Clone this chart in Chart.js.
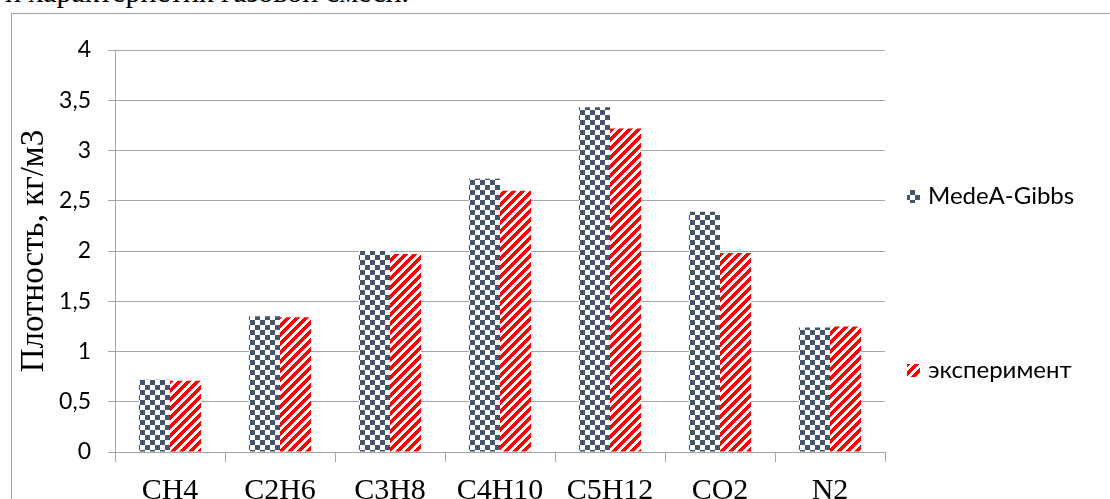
<!DOCTYPE html>
<html><head><meta charset="utf-8">
<script src="https://cdn.jsdelivr.net/npm/chart.js@4/dist/chart.umd.min.js"></script>
<style>
html,body{margin:0;padding:0;width:1110px;height:499px;overflow:hidden;background:#fff}
#frame{position:absolute;left:11px;top:13px;width:1200px;height:600px;border:1px solid #a0a0a0;box-sizing:border-box}
#caption{position:absolute;left:5px;top:-23px;font-size:30px;font-family:"Liberation Serif",serif;white-space:nowrap;line-height:30px;color:#000}
#wrap{position:absolute;left:0;top:0;width:1110px;height:499px}
</style></head>
<body>
<div id="caption">и характеристик газовой смеси.</div>
<div id="frame"></div>
<div id="wrap"><canvas id="c" width="1110" height="499"></canvas></div>
<script>
const categories = ['CH4','C2H6','C3H8','C4H10','C5H12','CO2','N2'];
const seriesNames = ['MedeA-Gibbs','эксперимент'];
const medeaValues = [0.72,1.35,2.00,2.72,3.43,2.39,1.24];
const experimentValues = [0.71,1.34,1.97,2.60,3.22,1.98,1.25];
const yTicks = [0,0.5,1,1.5,2,2.5,3,3.5,4];
const yTitle = 'Плотность, кг/м3';

function checkerPattern(){
  const n=10, c=document.createElement('canvas'); c.width=n; c.height=n;
  const g=c.getContext('2d'); g.fillStyle='#fff'; g.fillRect(0,0,n,n);
  g.fillStyle='#44546a';
  g.fillRect(0,0,5,5); g.fillRect(5,5,5,5);
  return g.createPattern(c,'repeat');
}
function stripePattern(){
  const n=9, c=document.createElement('canvas'); c.width=n; c.height=n;
  const g=c.getContext('2d'); const img=g.createImageData(n,n);
  for(let y=0;y<n;y++)for(let x=0;x<n;x++){
    const red=((x+y)%n)<4.5; const i=(y*n+x)*4;
    img.data[i]=255; img.data[i+1]=red?0:255; img.data[i+2]=red?0:255; img.data[i+3]=255;
  }
  g.putImageData(img,0,0);
  return g.createPattern(c,'repeat');
}

const sideLegend = {
  id:'sideLegend',
  afterDraw(chart){
    const ctx=chart.ctx, a=chart.chartArea;
    const ys=[a.top+146, a.top+320];
    chart.data.datasets.forEach((ds,i)=>{
      ctx.save();
      ctx.fillStyle=ds.backgroundColor;
      ctx.fillRect(a.right+22, ys[i]-6, 13, 13);
      ctx.fillStyle='#000';
      ctx.font='24px Lato';
      ctx.textBaseline='middle';
      ctx.fillText(ds.label, a.right+43, ys[i]);
      ctx.restore();
    });
  }
};

Promise.all([document.fonts.load('24px Lato'),document.fonts.load('30px "Liberation Serif"')]).then(()=>{
  const gridColor='#a6a6a6';
  new Chart(document.getElementById('c'),{
    type:'bar',
    data:{
      labels:categories,
      datasets:[
        {label:seriesNames[0],data:medeaValues,backgroundColor:checkerPattern(),borderWidth:0},
        {label:seriesNames[1],data:experimentValues,backgroundColor:stripePattern(),borderWidth:0}
      ]
    },
    options:{
      responsive:false,
      animation:false,
      devicePixelRatio:1,
      layout:{padding:{top:50,right:225,left:0,bottom:0}},
      datasets:{bar:{categoryPercentage:0.565,barPercentage:1.0}},
      plugins:{legend:{display:false},tooltip:{enabled:false}},
      scales:{
        x:{
          grid:{drawOnChartArea:false,drawTicks:true,tickLength:10,color:gridColor,offset:true},
          border:{color:gridColor,width:1},
          ticks:{font:{family:'Liberation Serif',size:30},color:'#000',padding:11,maxRotation:0,autoSkip:false},
          afterFit:s=>{s.height=47;}
        },
        y:{
          min:0,max:4,
          afterBuildTicks:s=>{s.ticks=yTicks.map(v=>({value:v}));},
          grid:{color:gridColor,tickLength:7,drawTicks:true},
          border:{color:gridColor,width:1},
          ticks:{font:{family:'Lato',size:23},color:'#000',padding:17,callback:v=>String(v).replace('.',',')},
          title:{display:true,text:yTitle,font:{family:'Liberation Serif',size:33},color:'#000',padding:{top:15,bottom:0}},
          afterFit:s=>{s.width=115;}
        }
      }
    },
    plugins:[sideLegend]
  });
});
</script>
</body></html>
